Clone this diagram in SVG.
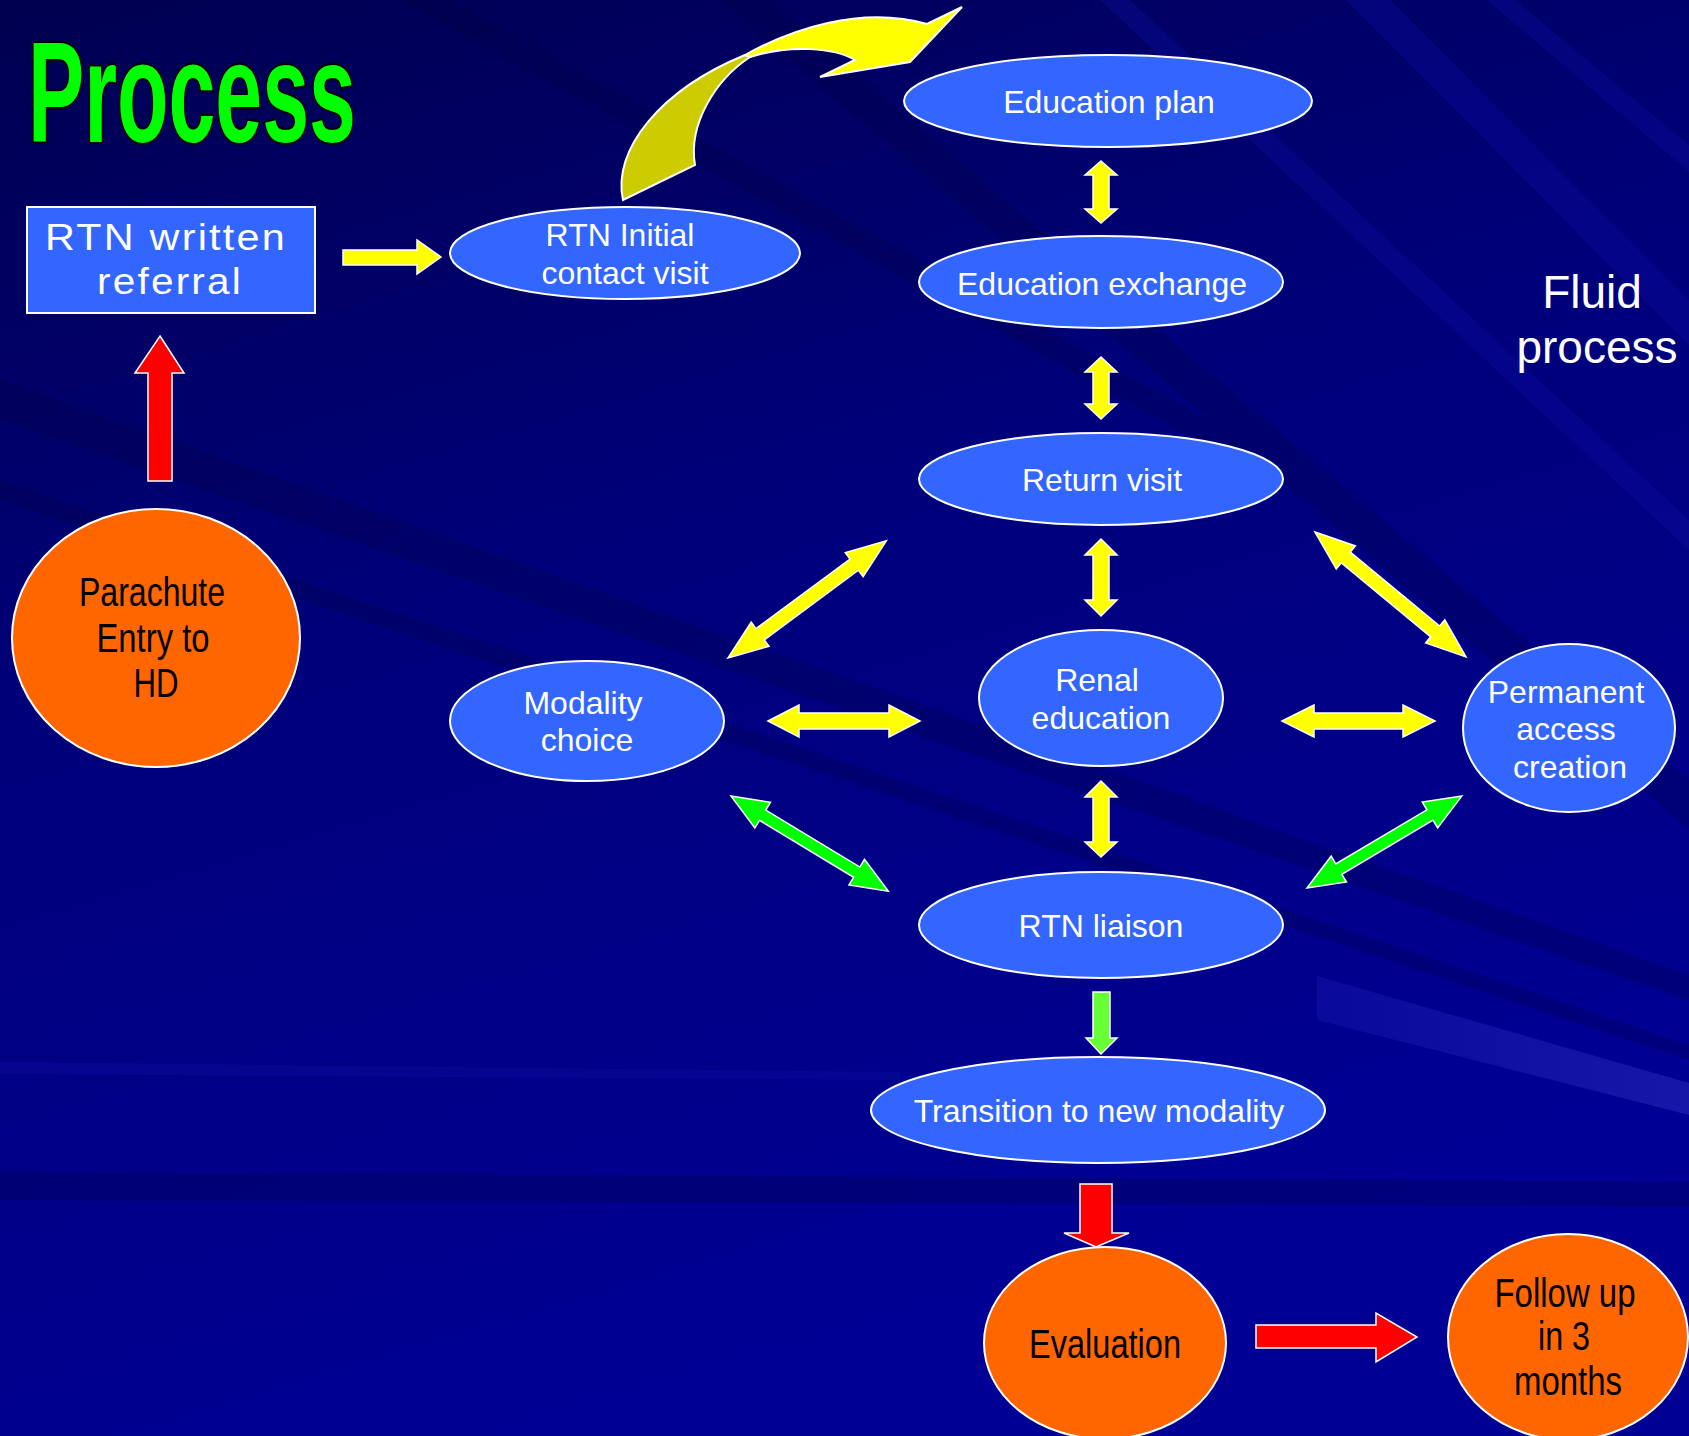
<svg xmlns="http://www.w3.org/2000/svg" width="1689" height="1436" viewBox="0 0 1689 1436">
<defs>
  <linearGradient id="bg" x1="0" y1="0" x2="0.35" y2="1">
    <stop offset="0" stop-color="#000050"/>
    <stop offset="0.45" stop-color="#00007A"/>
    <stop offset="1" stop-color="#000094"/>
  </linearGradient>
  <linearGradient id="lite" x1="0" y1="0" x2="1" y2="0">
    <stop offset="0" stop-color="#0A0A9C"/>
    <stop offset="1" stop-color="#1A1AAA"/>
  </linearGradient>
  <style>
    .blue{fill:#3366FF;stroke:#FFFFFF;stroke-width:2}
    .orange{fill:#FF6600;stroke:#FFFFFF;stroke-width:2}
    .wt{font-family:"Liberation Sans",Arial,sans-serif;font-size:32px;fill:#FFFFFF;text-anchor:middle}
    .bk{font-family:"Liberation Sans Narrow","Arial Narrow","Liberation Sans",sans-serif;font-size:40px;fill:#000000;text-anchor:middle}
    .ya{fill:#FFFF00;stroke:#FFFFFF;stroke-width:1.5}
    .ga{fill:#00FF00;stroke:#FFFFFF;stroke-width:1.5}
    .lg{fill:#66FF33;stroke:#FFFFFF;stroke-width:1.5}
    .ra{fill:#FF0000;stroke:#FFFFFF;stroke-width:1.5}
    .ref{font-family:"Liberation Sans",Arial,sans-serif;font-size:37px;fill:#FFFFFF;text-anchor:middle;letter-spacing:2px}
  </style>
</defs>

<g id="background">
  <rect width="1689" height="1436" fill="url(#bg)"/>
  <g fill="#000040" opacity="0.25">
    <polygon points="400,0 450,0 1300,470 1250,470"/>
    <polygon points="720,0 770,0 1689,780 1689,830"/>
    <polygon points="0,380 0,420 1689,1000 1689,975"/>
    <polygon points="0,480 0,500 1689,1060 1689,1045"/>
  </g>
  <polygon points="0,1172 1689,1182 1689,1206 0,1200" fill="#000060" opacity="0.45"/>
  <g fill="#1010A8" opacity="0.3">
    <polygon points="1346,0 1390,0 1689,300 1689,345"/>
    <polygon points="1487,0 1515,0 1689,145 1689,172"/>
    <polygon points="1100,0 1130,0 1689,520 1689,550"/>
    <polygon points="0,1062 900,1072 900,1080 0,1074"/>
  </g>
  <polygon points="1317,976 1689,1083 1689,1115 1317,1020" fill="url(#lite)" opacity="0.9"/>
</g>

<text id="title" x="28" y="142" font-family="Liberation Sans,Arial,sans-serif" font-weight="bold" font-size="142" textLength="328" lengthAdjust="spacingAndGlyphs" fill="#00FF00" stroke="#000000" stroke-width="4" paint-order="stroke">Process</text>

<g id="connectors">
  <path d="M623,200 C612,150 660,90 745,55 L750,57 C715,80 688,125 695,165 Z" fill="#CCCC00" stroke="#FFFFFF" stroke-width="2"/>
  <path d="M745,55 C790,30 860,5 927,24 L962,7 L910,62 L820,77 L855,60 C835,48 790,44 750,57 Z" fill="#FFFF00" stroke="#FFFFFF" stroke-width="2"/>
  <polygon class="ya" points="343,250 417,250 417,240 441,257 417,274 417,265 343,265"/>
  <polygon class="ra" points="160,336 184,373 172,373 172,481 148,481 148,373 135,373"/>
  <polygon class="ya" points="1101,161 1117,175 1109,175 1109,209 1117,209 1101,223 1085,209 1093,209 1093,175 1085,175"/>
  <polygon class="ya" points="1101,357 1117,372 1109,372 1109,404 1117,404 1101,419 1085,404 1093,404 1093,372 1085,372"/>
  <polygon class="ya" points="1101,539 1117,555 1109,555 1109,600 1117,600 1101,616 1085,600 1093,600 1093,555 1085,555"/>
  <polygon class="ya" points="1101,781 1117,797 1109,797 1109,842 1117,842 1101,857 1085,842 1093,842 1093,797 1085,797"/>
  <polygon class="ya" points="768,721 799,705 799,713 889,713 889,705 920,721 889,737 889,729 799,729 799,737"/>
  <polygon class="ya" points="1282,721 1314,705 1314,713 1403,713 1403,705 1435,721 1403,737 1403,729 1314,729 1314,737"/>
  <polygon class="ya" transform="translate(728,658) rotate(-36.5)" points="0,0 40,-15 40,-7 157,-7 157,-15 197,0 157,15 157,7 40,7 40,15"/>
  <polygon class="ya" transform="translate(1315,532) rotate(39.6)" points="0,0 40,-15 40,-7 156,-7 156,-15 196,0 156,15 156,7 40,7 40,15"/>
  <polygon class="ga" transform="translate(731,796) rotate(31.2)" points="0,0 37,-15 37,-6 147,-6 147,-15 184,0 147,15 147,6 37,6 37,15"/>
  <polygon class="ga" transform="translate(1307,888) rotate(-30.7)" points="0,0 37,-15 37,-6 143,-6 143,-15 180,0 143,15 143,6 37,6 37,15"/>
  <polygon class="lg" points="1093,992 1110,992 1110,1038 1117,1038 1101,1054 1086,1038 1093,1038"/>
  <polygon class="ra" points="1080,1184 1112,1184 1112,1233 1129,1233 1096,1247 1064,1233 1080,1233"/>
  <polygon class="ra" points="1256,1325 1376,1325 1376,1313 1417,1337 1376,1362 1376,1348 1256,1348"/>
</g>

<g id="node-referral">
  <rect x="27" y="207" width="288" height="106" fill="#3366FF" stroke="#FFFFFF" stroke-width="2"/>
  <text class="ref" x="166" y="250" textLength="242" lengthAdjust="spacingAndGlyphs">RTN written</text>
  <text class="ref" x="170" y="294" textLength="146" lengthAdjust="spacingAndGlyphs">referral</text>
</g>

<g id="node-initial">
  <ellipse class="blue" cx="625" cy="253" rx="175" ry="46"/>
  <text class="wt" x="620" y="246">RTN Initial</text>
  <text class="wt" x="625" y="284">contact visit</text>
</g>

<g id="node-eduplan">
  <ellipse class="blue" cx="1108" cy="101" rx="204" ry="46"/>
  <text class="wt" x="1109" y="113">Education plan</text>
</g>

<g id="node-eduexchange">
  <ellipse class="blue" cx="1101" cy="282" rx="182" ry="46"/>
  <text class="wt" x="1102" y="295">Education exchange</text>
</g>

<g id="node-return">
  <ellipse class="blue" cx="1101" cy="479" rx="182" ry="46"/>
  <text class="wt" x="1102" y="491">Return visit</text>
</g>

<g id="node-renal">
  <ellipse class="blue" cx="1101" cy="698" rx="122" ry="68"/>
  <text class="wt" x="1097" y="691">Renal</text>
  <text class="wt" x="1101" y="729">education</text>
</g>

<g id="node-modality">
  <ellipse class="blue" cx="587" cy="721" rx="137" ry="60"/>
  <text class="wt" x="583" y="714">Modality</text>
  <text class="wt" x="587" y="751">choice</text>
</g>

<g id="node-access">
  <ellipse class="blue" cx="1569" cy="728" rx="106" ry="84"/>
  <text class="wt" x="1566" y="703">Permanent</text>
  <text class="wt" x="1566" y="740">access</text>
  <text class="wt" x="1570" y="778">creation</text>
</g>

<g id="node-liaison">
  <ellipse class="blue" cx="1101" cy="925" rx="182" ry="53"/>
  <text class="wt" x="1101" y="937">RTN liaison</text>
</g>

<g id="node-transition">
  <ellipse class="blue" cx="1098" cy="1110" rx="227" ry="53"/>
  <text class="wt" x="1099" y="1122">Transition to new modality</text>
</g>

<g id="node-parachute">
  <ellipse class="orange" cx="156" cy="638" rx="144" ry="129"/>
  <text class="bk" x="152" y="606" textLength="146" lengthAdjust="spacingAndGlyphs">Parachute</text>
  <text class="bk" x="153" y="652" textLength="113" lengthAdjust="spacingAndGlyphs">Entry to</text>
  <text class="bk" x="156" y="697" textLength="45" lengthAdjust="spacingAndGlyphs">HD</text>
</g>

<g id="node-evaluation">
  <ellipse class="orange" cx="1105" cy="1343" rx="121" ry="96"/>
  <text class="bk" x="1105" y="1358" textLength="152" lengthAdjust="spacingAndGlyphs">Evaluation</text>
</g>

<g id="node-followup">
  <ellipse class="orange" cx="1568" cy="1337" rx="120" ry="103"/>
  <text class="bk" x="1565" y="1307" textLength="141" lengthAdjust="spacingAndGlyphs">Follow up</text>
  <text class="bk" x="1564" y="1350" textLength="52" lengthAdjust="spacingAndGlyphs">in 3</text>
  <text class="bk" x="1568" y="1395" textLength="108" lengthAdjust="spacingAndGlyphs">months</text>
</g>

<g id="label-fluid">
  <text x="1592" y="308" font-family="Liberation Sans,Arial,sans-serif" font-size="46" fill="#FFFFFF" text-anchor="middle">Fluid</text>
  <text x="1597" y="363" font-family="Liberation Sans,Arial,sans-serif" font-size="46" fill="#FFFFFF" text-anchor="middle">process</text>
</g>
</svg>
